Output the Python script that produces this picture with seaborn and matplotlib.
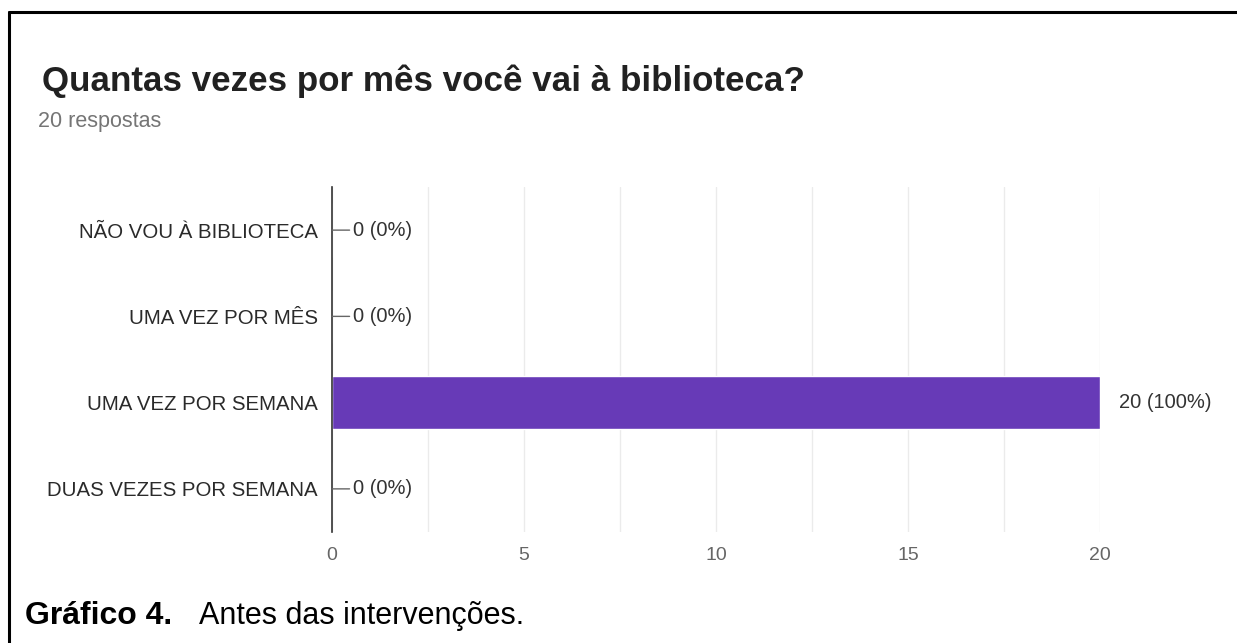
import matplotlib
matplotlib.use("Agg")
import matplotlib.pyplot as plt
from matplotlib.lines import Line2D
import seaborn as sns
import pandas as pd

categories = ["NÃO VOU À BIBLIOTECA", "UMA VEZ POR MÊS", "UMA VEZ POR SEMANA", "DUAS VEZES POR SEMANA"]
counts = [0, 0, 20, 0]
total_responses = 20
x_ticks = [0, 5, 10, 15, 20]

title = "Quantas vezes por mês você vai à biblioteca?"
subtitle = f"{total_responses} respostas"

sns.set_theme(style="white")
plt.rcParams["font.family"] = ["Liberation Sans", "DejaVu Sans"]

df = pd.DataFrame({"categoria": categories, "respostas": counts})

W, H = 1237, 643
fig = plt.figure(figsize=(W / 100, H / 100), dpi=100)
ax = fig.add_axes([332 / W, 1 - 532 / H, 768 / W, 345 / H])

sns.barplot(data=df, y="categoria", x="respostas", orient="h", color="#673ab7",
            saturation=1, width=0.62, ax=ax)

ax.set_xlim(0, 20)
ax.set_ylim(3.5, -0.5)
ax.set_xticks(x_ticks)
ax.set_xticks([2.5, 7.5, 12.5, 17.5], minor=True)
ax.grid(axis="x", which="both", color="#ebebeb", linewidth=1)
ax.set_axisbelow(True)
ax.set_xlabel("")
ax.set_ylabel("")
for side in ["top", "right", "bottom"]:
    ax.spines[side].set_visible(False)
ax.spines["left"].set_color("#333333")
ax.spines["left"].set_linewidth(1.2)
ax.tick_params(axis="x", which="both", length=0, pad=11, labelsize=14, labelcolor="#666666")
ax.tick_params(axis="y", length=0, pad=10, labelsize=14.7, labelcolor="#2a2a2a")

for i, v in enumerate(counts):
    pct = round(100 * v / total_responses)
    label = f"{v} ({pct}%)"
    if v > 0:
        ax.annotate(label, xy=(v, i), xytext=(14, 0), textcoords="offset points",
                    va="center", ha="left", fontsize=14.5, color="#333333")
    else:
        # zero-length bars get a short leader line from the axis to the label
        ax.annotate(label, xy=(v, i), xytext=(15, 0), textcoords="offset points",
                    va="center", ha="left", fontsize=14.5, color="#333333",
                    arrowprops=dict(arrowstyle="-", color="#666666", lw=1,
                                    shrinkA=0, shrinkB=0))

fig.text(42 / W, 1 - 81 / H, title, fontsize=25.2, fontweight="bold",
         color="#212121", va="center", ha="left")
fig.text(38 / W, 1 - 121 / H, subtitle, fontsize=15.5, color="#757575",
         va="center", ha="left")

fig.text(25 / W, 1 - 616 / H, "Gráfico 4.", fontsize=23, fontweight="bold",
         color="black", va="center", ha="left")
fig.text(199 / W, 1 - 616 / H, "Antes das intervenções.", fontsize=22,
         color="black", va="center", ha="left")

# frame lines along the top and left edge
fig.add_artist(Line2D([9 / W, 1.0], [1 - 12 / H, 1 - 12 / H],
                      transform=fig.transFigure, color="black", lw=2.2))
fig.add_artist(Line2D([9 / W, 9 / W], [0, 1 - 12 / H],
                      transform=fig.transFigure, color="black", lw=2.2))

fig.savefig("out.png", dpi=100, facecolor="white")
